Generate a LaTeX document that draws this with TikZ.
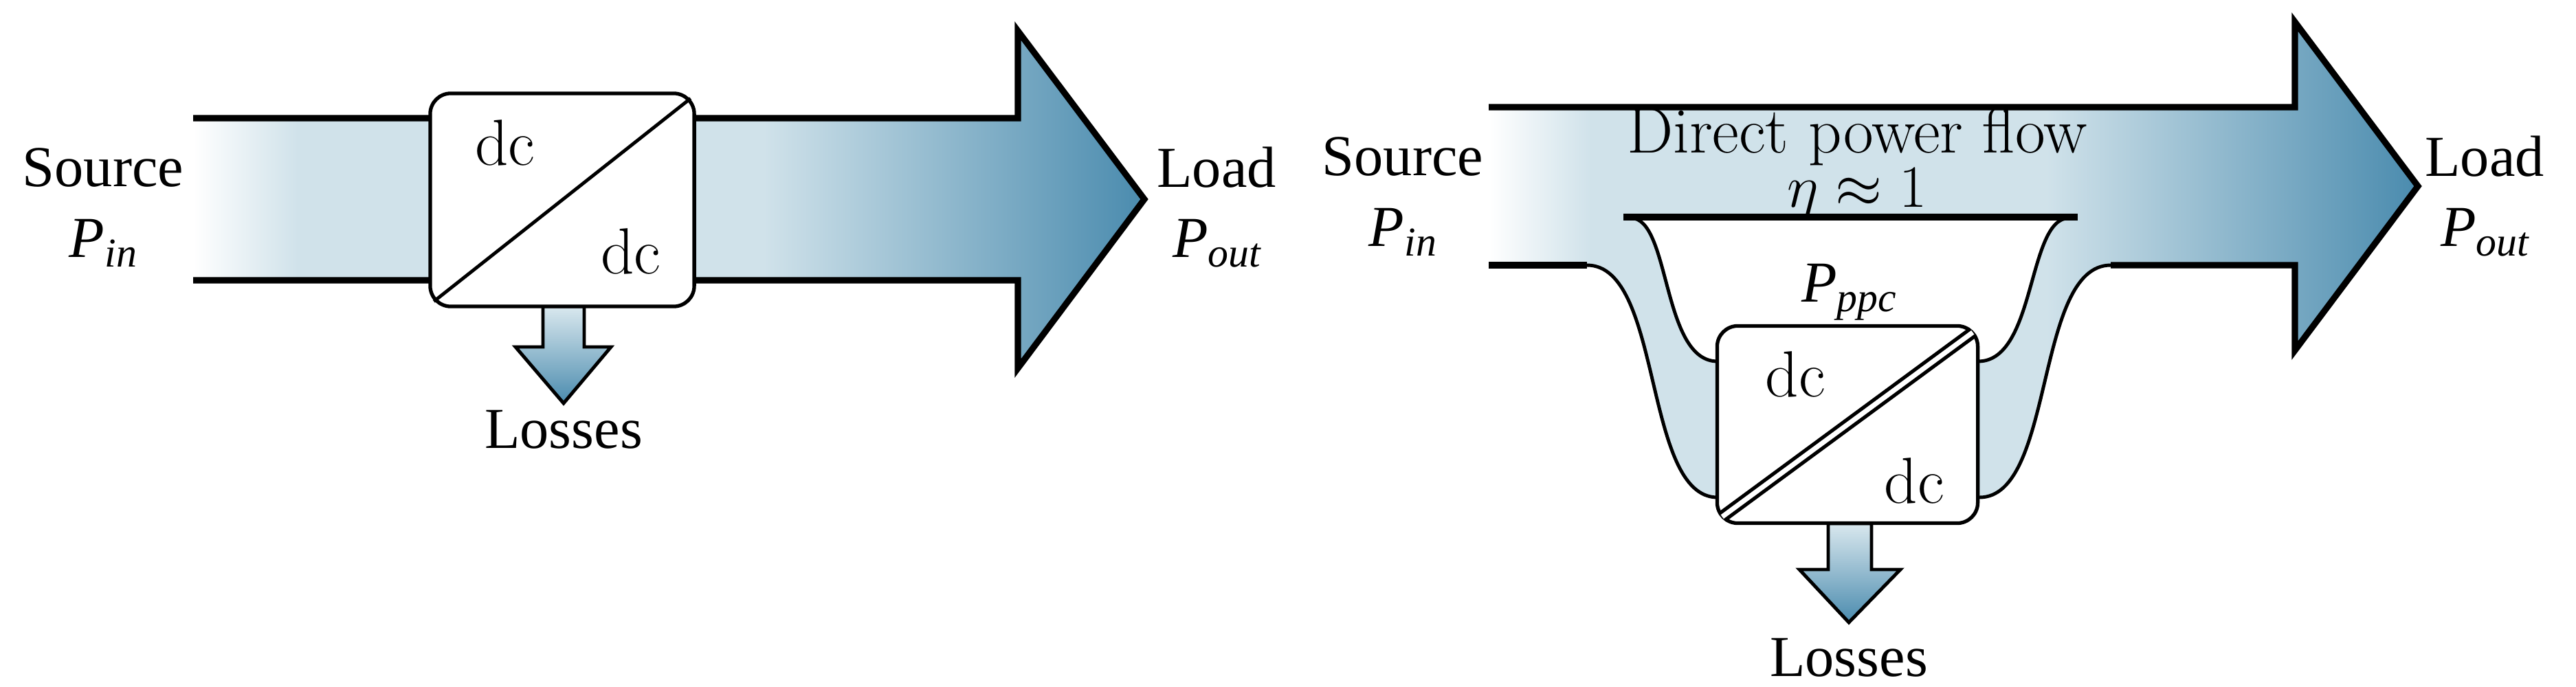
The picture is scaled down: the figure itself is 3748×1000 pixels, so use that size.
\documentclass[tikz,border=0pt]{standalone}
\usepackage{fontspec}
\newfontfamily\lab{Liberation Serif}
\definecolor{lb}{HTML}{D0E2EA}
\definecolor{db}{HTML}{4A8BAE}
\pgfdeclarehorizontalshading{band}{100bp}{color(0bp)=(white);color(25bp)=(white);color(30.5bp)=(lb);color(55bp)=(lb);color(75bp)=(db);color(100bp)=(db)}
\pgfdeclareverticalshading{loss}{100bp}{color(0bp)=(db);color(25bp)=(db);color(75bp)=(lb!80);color(100bp)=(lb!80)}
\newcommand{\pl}[1]{{\lab\itshape P\raisebox{-0.35ex}{\fontsize{17}{17}\selectfont #1}}}
\begin{document}
\begin{tikzpicture}[x=0.01cm,y=-0.01cm,
  thick line/.style={line width=2.6pt},
  thin line/.style={line width=1.4pt},
  conv/.style={draw,line width=1.5pt,rounded corners=0.3cm,fill=white},
  lbl/.style={font=\lab\fontsize{24}{26}\selectfont,align=center},
  dctext/.style={font=\fontsize{27}{29}\selectfont}]
\useasboundingbox (0,0) rectangle (3748,1000);
% ===== Left diagram =====
\shade[shading=band] (281,172) -- (1481,172) -- (1481,45) -- (1665,290) -- (1481,536) -- (1481,408) -- (281,408) -- cycle;
\draw[thick line] (281,172) -- (1481,172) -- (1481,45) -- (1665,290) -- (1481,536) -- (1481,408) -- (281,408);
% losses arrow
\shade[shading=loss,draw,thin line] (790,446) -- (850,446) -- (850,505) -- (889,505) -- (820,587) -- (750,505) -- (790,505) -- cycle;
\node[conv,minimum width=3.84cm,minimum height=3.1cm] (b1) at (818,291) {};
\draw[thin line] ([shift={(8,-10)}]b1.south west) -- ([shift={(-8,10)}]b1.north east);
\node[dctext] (d1) at (735,208) {dc};
\node[dctext] (d2) at (918,366) {dc};
\node[lbl] (s1) at (150,244) {Source};
\node[lbl] (p1) at (150,354) {\pl{in}};
\node[lbl] (l1) at (1770,244) {Load};
\node[lbl] (o1) at (1770,354) {\pl{out}};
\node[lbl] (x1) at (820,625) {Losses};
% ===== Right diagram =====
\shade[shading=band] (2166,156) -- (3339,156) -- (3339,32) -- (3518,271) -- (3339,510) -- (3339,386) -- (3071,386)
  .. controls (2960,386) and (2990,724) .. (2880,724) -- (2499,724)
  .. controls (2390,724) and (2420,386) .. (2309,386) -- (2166,386) -- cycle;
\draw[thick line] (2166,156) -- (3339,156) -- (3339,32) -- (3518,271) -- (3339,510) -- (3339,386) -- (3071,386);
\draw[thin line] (3071,386) .. controls (2960,386) and (2990,724) .. (2880,724);
\draw[thin line] (2499,724) .. controls (2390,724) and (2420,386) .. (2309,386);
\draw[thick line] (2309,386) -- (2166,386);
% inner funnel
\fill[white] (2378,318) -- (3005,318) .. controls (2950,330) and (2960,526) .. (2878,526) -- (2499,526) .. controls (2420,526) and (2430,330) .. (2378,318) -- cycle;
\draw[thin line] (3005,318) .. controls (2950,330) and (2960,526) .. (2878,526);
\draw[thin line] (2499,526) .. controls (2420,526) and (2430,330) .. (2378,318);
\draw[thick line] (2362,316) -- (3023,316);
% losses arrow
\shade[shading=loss,draw,thin line] (2660,762) -- (2723,762) -- (2723,829) -- (2765,829) -- (2690,906) -- (2618,829) -- (2660,829) -- cycle;
\node[conv,minimum width=3.79cm,minimum height=2.87cm] (b2) at (2688,618) {};
\draw[line width=5pt] ([shift={(10,-12)}]b2.south west) -- ([shift={(-10,12)}]b2.north east);
\draw[white,line width=2pt] ([shift={(10,-12)}]b2.south west) -- ([shift={(-10,12)}]b2.north east);
\node[dctext] (d3) at (2612,545) {dc};
\node[dctext] (d4) at (2785,700) {dc};
\node[lbl] (pp) at (2690,425) {\pl{ppc}};
\node[font=\fontsize{27}{29}\selectfont,inner sep=0pt] (df) at (2702,198) {Direct power flow};
\node[font=\fontsize{27}{29}\selectfont,inner sep=0pt] (eta) at (2702,282) {$\eta\approx 1$};
\node[lbl] (s2) at (2041,228) {Source};
\node[lbl] (p2) at (2041,338) {\pl{in}};
\node[lbl] (l2) at (3615,228) {Load};
\node[lbl] (o2) at (3615,338) {\pl{out}};
\node[lbl] (x2) at (2690,957) {Losses};
\end{tikzpicture}
\end{document}
